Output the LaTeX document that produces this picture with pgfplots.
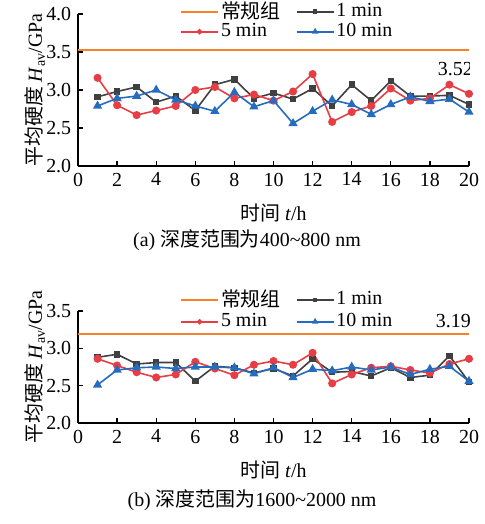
\documentclass[border=0pt]{standalone}
\usepackage{pgfplots}
\pgfplotsset{compat=1.18}
\usepackage{fontspec}
\setmainfont{Liberation Serif}
\newfontfamily\cjk{Noto Sans CJK SC}
\definecolor{cor}{RGB}{243,131,47}
\definecolor{cred}{RGB}{230,62,68}
\definecolor{cgray}{RGB}{64,64,64}
\definecolor{cblue}{RGB}{38,108,190}
\pgfplotsset{
  myax/.style={
    scale only axis, width=391bp,
    xmin=0, xmax=20, ymin=2,
    axis x line*=bottom, axis y line*=left,
    xtick={0,2,...,20}, ytick distance=0.5,
    tick align=inside, major tick length=5bp,
    axis line style={line width=1.6bp},
    tick style={line width=1.3bp, black},
    /pgf/number format/assume math mode=true,
    yticklabel style={/pgf/number format/.cd, fixed, fixed zerofill, precision=1},
    ylabel={{\cjk 平均硬度} \textit{H}\textsubscript{av}/GPa},
    ylabel style={at={(axis description cs:-0.11,0.5)}, anchor=center},
    xlabel={{\cjk 时间} \textit{t}/h},
    xlabel style={at={(axis description cs:0.5,0)}, anchor=center, yshift=-47bp},
    legend columns=2,
    legend cell align=left,
    legend style={draw=none, fill=none, row sep=-2bp,
      /tikz/every even column/.append style={column sep=13bp}},
    legend image code/.code={\draw[mark repeat=2,mark phase=2,#1,mark options={scale=0.6}] plot coordinates {(0bp,0bp) (18.5bp,0bp) (37bp,0bp)};},
    every axis plot/.append style={line width=1.6bp},
  },
  s1/.style={cgray, mark=square*, mark size=2.4bp, mark options={solid}},
  s5/.style={cred, mark=*, mark size=3.2bp},
  s10/.style={cblue, mark=triangle*, mark size=3.8bp},
}
\begin{document}
\fontsize{20}{23}\selectfont
\begin{tikzpicture}[font=\fontsize{20}{23}\selectfont]
\path[use as bounding box] (0,0) rectangle (485bp,-524bp);
\begin{axis}[myax, at={(78bp,-166bp)}, anchor=south west, height=152bp, ymax=4,
  legend style={at={(axis description cs:0.535,0.955)}, anchor=center}]
\addplot[cor, no marks, line width=2bp] coordinates {(0,3.52) (20,3.52)};
\addlegendentry{\cjk 常规组}
\addplot[s1] coordinates {(1,2.91)(2,2.98)(3,3.04)(4,2.84)(5,2.92)(6,2.73)(7,3.07)(8,3.14)(9,2.89)(10,2.96)(11,2.88)(12,3.02)(13,2.79)(14,3.07)(15,2.86)(16,3.12)(17,2.92)(18,2.92)(19,2.93)(20,2.81)};
\addlegendentry{1 min}
\addplot[s5] coordinates {(1,3.16)(2,2.80)(3,2.67)(4,2.73)(5,2.79)(6,3.00)(7,3.04)(8,2.89)(9,2.94)(10,2.86)(11,2.98)(12,3.21)(13,2.58)(14,2.71)(15,2.79)(16,3.02)(17,2.86)(18,2.89)(19,3.07)(20,2.95)};
\addlegendentry{5 min}
\addplot[s10] coordinates {(1,2.79)(2,2.89)(3,2.92)(4,3.00)(5,2.87)(6,2.79)(7,2.72)(8,2.97)(9,2.78)(10,2.86)(11,2.56)(12,2.72)(13,2.87)(14,2.81)(15,2.68)(16,2.81)(17,2.91)(18,2.85)(19,2.88)(20,2.71)};
\addlegendentry{10 min}
\node at (axis cs:19.3,3.28) {3.52};
\end{axis}
\node at (247bp,-240bp) {(a) {\cjk 深度范围为}400\textasciitilde800 nm};
\begin{axis}[myax, at={(78bp,-423bp)}, anchor=south west, height=112bp, ymax=3.5,
  legend style={at={(axis description cs:0.535,1.01)}, anchor=center, row sep=0bp}]
\addplot[cor, no marks, line width=2bp] coordinates {(0,3.19) (20,3.19)};
\addlegendentry{\cjk 常规组}
\addplot[s1] coordinates {(1,2.88)(2,2.92)(3,2.79)(4,2.81)(5,2.81)(6,2.56)(7,2.76)(8,2.74)(9,2.67)(10,2.73)(11,2.63)(12,2.86)(13,2.68)(14,2.69)(15,2.63)(16,2.74)(17,2.61)(18,2.64)(19,2.90)(20,2.55)};
\addlegendentry{1 min}
\addplot[s5] coordinates {(1,2.86)(2,2.77)(3,2.68)(4,2.61)(5,2.65)(6,2.82)(7,2.73)(8,2.64)(9,2.78)(10,2.83)(11,2.78)(12,2.94)(13,2.53)(14,2.65)(15,2.74)(16,2.76)(17,2.71)(18,2.67)(19,2.79)(20,2.86)};
\addlegendentry{5 min}
\addplot[s10] coordinates {(1,2.51)(2,2.71)(3,2.74)(4,2.75)(5,2.73)(6,2.75)(7,2.75)(8,2.74)(9,2.66)(10,2.74)(11,2.61)(12,2.72)(13,2.70)(14,2.75)(15,2.71)(16,2.75)(17,2.65)(18,2.72)(19,2.76)(20,2.56)};
\addlegendentry{10 min}
\node at (axis cs:19.2,3.36) {3.19};
\end{axis}
\node at (252bp,-500bp) {(b) {\cjk 深度范围为}1600\textasciitilde2000 nm};
\end{tikzpicture}
\end{document}
